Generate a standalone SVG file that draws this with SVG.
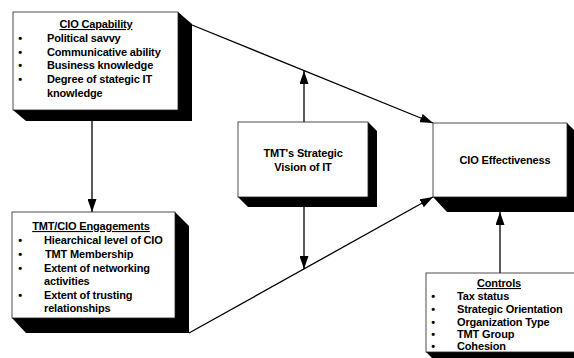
<svg xmlns="http://www.w3.org/2000/svg" width="574" height="358" viewBox="0 0 574 358">
  <defs>
    <style>
      .front { fill: #ffffff; stroke: #222; stroke-width: 0.8; }
      .shade { fill: #000000; }
      .txt { font-family: "Liberation Sans", Arial, sans-serif; font-weight: bold; font-size: 11px; fill: #000; letter-spacing: -0.15px; }
      .title { text-anchor: middle; text-decoration: underline; }
      .mid { text-anchor: middle; }
      .wire { stroke: #000; stroke-width: 1.3; fill: none; marker-end: url(#ah); }
    </style>
    <marker id="ah" markerUnits="userSpaceOnUse" markerWidth="13" markerHeight="9" refX="13" refY="4.5" orient="auto">
      <path d="M0,0 L13,4.5 L0,9 z" fill="#000"/>
    </marker>
  </defs>

  <rect width="574" height="358" fill="#fff"/>

  <!-- connectors -->
  <g id="connectors">
    <line class="wire" x1="92" y1="121" x2="92" y2="212"/>
    <line class="wire" x1="192" y1="25" x2="433" y2="123"/>
    <line class="wire" x1="189" y1="333" x2="433" y2="197"/>
    <line class="wire" x1="304" y1="122" x2="304" y2="71"/>
    <line class="wire" x1="304" y1="207" x2="304" y2="269"/>
    <line class="wire" x1="500" y1="273" x2="500" y2="212"/>
  </g>

  <!-- CIO Capability -->
  <g id="cio-capability">
    <polygon class="shade" points="178,12 192,24 192,121 26,121 13,110"/>
    <rect class="front" x="13" y="12" width="165" height="98"/>
    <text class="txt title" x="96" y="28">CIO Capability</text>
    <text class="txt mid" x="20" y="42">•</text>
    <text class="txt" x="47" y="42">Political savvy</text>
    <text class="txt mid" x="20" y="56">•</text>
    <text class="txt" x="47" y="56">Communicative ability</text>
    <text class="txt mid" x="20" y="69">•</text>
    <text class="txt" x="47" y="69">Business knowledge</text>
    <text class="txt mid" x="20" y="83">•</text>
    <text class="txt" x="47" y="83">Degree of stategic IT</text>
    <text class="txt" x="47" y="97">knowledge</text>
  </g>

  <!-- TMT/CIO Engagements -->
  <g id="tmt-cio-engagements">
    <polygon class="shade" points="175,212 189,226 189,333 26,333 12,318"/>
    <rect class="front" x="12" y="212" width="163" height="106"/>
    <text class="txt title" x="91" y="230">TMT/CIO Engagements</text>
    <text class="txt mid" x="20" y="244">•</text>
    <text class="txt" x="44" y="244">Hiearchical level of CIO</text>
    <text class="txt mid" x="20" y="258">•</text>
    <text class="txt" x="45" y="258">TMT Membership</text>
    <text class="txt mid" x="20" y="272">•</text>
    <text class="txt" x="44" y="272">Extent of networking</text>
    <text class="txt" x="44" y="285">activities</text>
    <text class="txt mid" x="20" y="299">•</text>
    <text class="txt" x="44" y="299">Extent of trusting</text>
    <text class="txt" x="44" y="312">relationships</text>
  </g>

  <!-- TMT's Strategic Vision of IT -->
  <g id="tmt-vision">
    <polygon class="shade" points="368,122 377,131 377,207 248,207 238,197"/>
    <rect class="front" x="238" y="122" width="130" height="75"/>
    <text class="txt mid" x="303" y="157">TMT's Strategic</text>
    <text class="txt mid" x="303" y="171">Vision of IT</text>
  </g>

  <!-- CIO Effectiveness -->
  <g id="cio-effectiveness">
    <polygon class="shade" points="567,123 581,137 581,212 447,212 433,197"/>
    <rect class="front" x="433" y="123" width="134" height="74"/>
    <text class="txt mid" x="505" y="164">CIO Effectiveness</text>
  </g>

  <!-- Controls -->
  <g id="controls">
    <polygon class="shade" points="590,273 604,287 604,366 440,366 426,352"/>
    <rect class="front" x="426" y="273" width="164" height="79"/>
    <text class="txt title" x="499" y="287">Controls</text>
    <text class="txt mid" x="433" y="300">•</text>
    <text class="txt" x="457" y="300">Tax status</text>
    <text class="txt mid" x="433" y="313">•</text>
    <text class="txt" x="457" y="313">Strategic Orientation</text>
    <text class="txt mid" x="433" y="326">•</text>
    <text class="txt" x="457" y="326">Organization Type</text>
    <text class="txt mid" x="433" y="338">•</text>
    <text class="txt" x="457" y="338">TMT Group</text>
    <text class="txt mid" x="433" y="350">•</text>
    <text class="txt" x="457" y="350">Cohesion</text>
  </g>
</svg>
